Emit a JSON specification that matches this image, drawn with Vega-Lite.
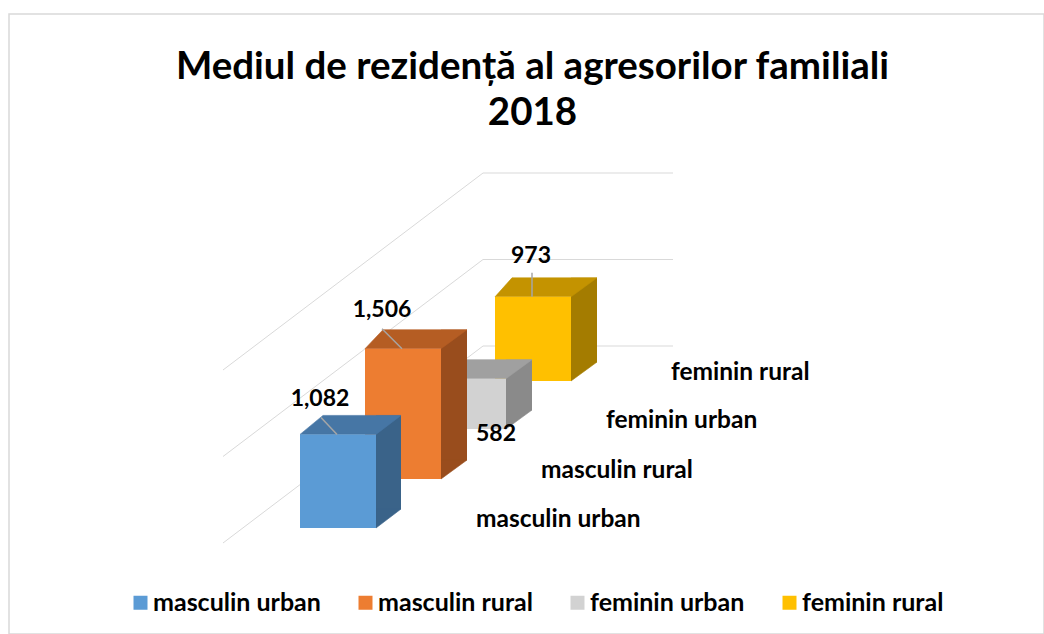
{
  "$schema": "https://vega.github.io/schema/vega-lite/v6.json",
  "width": 1035,
  "height": 620,
  "padding": {"left": 9, "top": 14, "right": 0, "bottom": 0},
  "autosize": {"type": "none"},
  "background": "white",
  "config": {"view": {"stroke": "#D9D9D9", "strokeWidth": 1.5}},
  "title": {
    "text": ["Mediul de rezidență al agresorilor familiali", "2018"],
    "font": "Lato", "fontSize": 38.5, "fontWeight": "bold", "color": "#000000",
    "anchor": "middle", "frame": "group", "baseline": "top", "offset": -119, "lineHeight": 46, "dx": 6
  },
  "data": {"values": [
    {"cat": "masculin urban", "value": 1082},
    {"cat": "masculin rural", "value": 1506},
    {"cat": "feminin urban", "value": 582},
    {"cat": "feminin rural", "value": 973}
  ]},
  "encoding": {
    "x": {"field": "cat", "type": "nominal", "bandPosition": 0.5,
      "scale": {"type": "band", "domain": ["masculin urban", "masculin rural", "feminin urban", "feminin rural"], "range": [296.5, 556.5], "paddingInner": 0, "paddingOuter": 0},
      "axis": null},
    "y": {"field": "value", "type": "quantitative",
      "scale": {"domain": [0, 5000], "range": [514, 81.5], "nice": false, "zero": true},
      "axis": null}
  },
  "layer": [
    {
      "data": {"values": [{"value": 0}, {"value": 1000}, {"value": 2000}]},
      "layer": [
        {"mark": {"type": "rule", "color": "#D9D9D9", "strokeWidth": 1, "xOffset": 145, "x2Offset": -115, "yOffset": -182, "y2Offset": 15},
         "encoding": {"x": {"datum": "masculin urban", "type": "nominal", "bandPosition": 0.5, "axis": null}, "x2": {"datum": "masculin urban", "bandPosition": 0.5}, "y2": {"field": "value"}}},
        {"mark": {"type": "rule", "color": "#D9D9D9", "strokeWidth": 1, "xOffset": 145, "x2Offset": 335, "yOffset": -182, "y2Offset": -182},
         "encoding": {"x": {"datum": "masculin urban", "type": "nominal", "bandPosition": 0.5, "axis": null}, "x2": {"datum": "masculin urban", "bandPosition": 0.5}, "y2": {"field": "value"}}}
      ]
    },
    {
      "transform": [{"filter": "datum.cat === 'feminin rural'"}],
      "layer": [
        {"mark": {"type": "bar", "width": 26, "xOffset": 51, "yOffset": -166, "y2Offset": -166, "color": "#A47C00"}},
        {"mark": {"type": "point", "shape": "M38,-19L38,0L64,-19Z", "size": 4, "filled": true, "opacity": 1, "color": "#A47C00", "stroke": "#A47C00", "strokeWidth": 0.6, "yOffset": -147},
         "encoding": {"y": {"datum": 0, "type": "quantitative", "axis": null}}},
        {"mark": {"type": "point", "shape": "M-38,0L38,0L64,-19L-21,-19Z", "size": 4, "filled": true, "opacity": 1, "color": "#C49300", "stroke": "#C49300", "strokeWidth": 0.6, "yOffset": -147}},
        {"mark": {"type": "bar", "width": 76, "yOffset": -147, "y2Offset": -147},
         "encoding": {"color": {"field": "cat", "type": "nominal",
           "scale": {"domain": ["masculin urban", "masculin rural", "feminin urban", "feminin rural"], "range": ["#5B9BD5", "#ED7D31", "#D2D2D2", "#FFC000"]},
           "legend": {"title": null, "orient": "none", "legendX": 119, "legendY": 576, "direction": "horizontal", "columns": 4, "columnPadding": 32, "symbolType": "square", "symbolSize": 196, "symbolStrokeWidth": 0, "symbolOpacity": 1, "labelFont": "Lato", "labelFontSize": 25, "labelFontWeight": "bold", "labelColor": "#000000", "labelOffset": 0, "labelLimit": 400, "padding": 0}}}},
        {"mark": {"type": "rule", "color": "#A6A6A6", "strokeWidth": 1.5, "xOffset": -1, "yOffset": -171, "x2Offset": -1, "y2Offset": -147},
         "encoding": {"x2": {"field": "cat", "bandPosition": 0.5}, "y2": {"field": "value"}}},
        {"mark": {"type": "text", "font": "Lato", "fontSize": 23, "fontWeight": "bold", "color": "#000000", "align": "center", "baseline": "alphabetic", "dx": -2, "dy": -181},
         "encoding": {"text": {"field": "value", "type": "quantitative", "format": ","}}},
        {"mark": {"type": "text", "font": "Lato", "fontSize": 24.5, "fontWeight": "bold", "color": "#000000", "align": "left", "baseline": "alphabetic", "dx": 138, "dy": -148},
         "encoding": {"y": {"datum": 0, "type": "quantitative", "axis": null}, "text": {"field": "cat"}}}
      ]
    },
    {
      "transform": [{"filter": "datum.cat === 'feminin urban'"}],
      "layer": [
        {"mark": {"type": "bar", "width": 26, "xOffset": 51, "yOffset": -118, "y2Offset": -118, "color": "#8A8A8A"}},
        {"mark": {"type": "point", "shape": "M38,-19L38,0L64,-19Z", "size": 4, "filled": true, "opacity": 1, "color": "#8A8A8A", "stroke": "#8A8A8A", "strokeWidth": 0.6, "yOffset": -99},
         "encoding": {"y": {"datum": 0, "type": "quantitative", "axis": null}}},
        {"mark": {"type": "point", "shape": "M-38,0L38,0L64,-19L-20,-19Z", "size": 4, "filled": true, "opacity": 1, "color": "#A0A0A0", "stroke": "#A0A0A0", "strokeWidth": 0.6, "yOffset": -99}},
        {"mark": {"type": "bar", "width": 76, "yOffset": -99, "y2Offset": -99},
         "encoding": {"color": {"field": "cat", "type": "nominal"}}},
        {"mark": {"type": "text", "font": "Lato", "fontSize": 23, "fontWeight": "bold", "color": "#000000", "align": "center", "baseline": "alphabetic", "dx": 28, "dy": -37},
         "encoding": {"text": {"field": "value", "type": "quantitative", "format": ","}}},
        {"mark": {"type": "text", "font": "Lato", "fontSize": 24.5, "fontWeight": "bold", "color": "#000000", "align": "left", "baseline": "alphabetic", "dx": 138, "dy": -100},
         "encoding": {"y": {"datum": 0, "type": "quantitative", "axis": null}, "text": {"field": "cat"}}}
      ]
    },
    {
      "transform": [{"filter": "datum.cat === 'masculin rural'"}],
      "layer": [
        {"mark": {"type": "bar", "width": 26, "xOffset": 51, "yOffset": -68, "y2Offset": -68, "color": "#994D1D"}},
        {"mark": {"type": "point", "shape": "M38,-19L38,0L64,-19Z", "size": 4, "filled": true, "opacity": 1, "color": "#994D1D", "stroke": "#994D1D", "strokeWidth": 0.6, "yOffset": -49},
         "encoding": {"y": {"datum": 0, "type": "quantitative", "axis": null}}},
        {"mark": {"type": "point", "shape": "M-38,0L38,0L64,-19L-20,-19Z", "size": 4, "filled": true, "opacity": 1, "color": "#B55D23", "stroke": "#B55D23", "strokeWidth": 0.6, "yOffset": -49}},
        {"mark": {"type": "bar", "width": 76, "yOffset": -49, "y2Offset": -49},
         "encoding": {"color": {"field": "cat", "type": "nominal"}}},
        {"mark": {"type": "rule", "color": "#A6A6A6", "strokeWidth": 1.5, "xOffset": -21, "yOffset": -69, "x2Offset": -1, "y2Offset": -49},
         "encoding": {"x2": {"field": "cat", "bandPosition": 0.5}, "y2": {"field": "value"}}},
        {"mark": {"type": "text", "font": "Lato", "fontSize": 23, "fontWeight": "bold", "color": "#000000", "align": "center", "baseline": "alphabetic", "dx": -21, "dy": -81},
         "encoding": {"text": {"field": "value", "type": "quantitative", "format": ","}}},
        {"mark": {"type": "text", "font": "Lato", "fontSize": 24.5, "fontWeight": "bold", "color": "#000000", "align": "left", "baseline": "alphabetic", "dx": 138, "dy": -50},
         "encoding": {"y": {"datum": 0, "type": "quantitative", "axis": null}, "text": {"field": "cat"}}}
      ]
    },
    {
      "transform": [{"filter": "datum.cat === 'masculin urban'"}],
      "layer": [
        {"mark": {"type": "bar", "width": 25, "xOffset": 50.5, "yOffset": -19, "y2Offset": -19, "color": "#3A6389"}},
        {"mark": {"type": "point", "shape": "M38,-19L38,0L63,-19Z", "size": 4, "filled": true, "opacity": 1, "color": "#3A6389", "stroke": "#3A6389", "strokeWidth": 0.6, "yOffset": 0},
         "encoding": {"y": {"datum": 0, "type": "quantitative", "axis": null}}},
        {"mark": {"type": "point", "shape": "M-38,0L38,0L63,-19L-15,-19Z", "size": 4, "filled": true, "opacity": 1, "color": "#4676A5", "stroke": "#4676A5", "strokeWidth": 0.6, "yOffset": 0}},
        {"mark": {"type": "bar", "width": 76, "yOffset": 0, "y2Offset": 0},
         "encoding": {"color": {"field": "cat", "type": "nominal"}}},
        {"mark": {"type": "rule", "color": "#A6A6A6", "strokeWidth": 1.5, "xOffset": -17, "yOffset": -17, "x2Offset": -1, "y2Offset": 0},
         "encoding": {"x2": {"field": "cat", "bandPosition": 0.5}, "y2": {"field": "value"}}},
        {"mark": {"type": "text", "font": "Lato", "fontSize": 23, "fontWeight": "bold", "color": "#000000", "align": "center", "baseline": "alphabetic", "dx": -18, "dy": -28},
         "encoding": {"text": {"field": "value", "type": "quantitative", "format": ","}}},
        {"mark": {"type": "text", "font": "Lato", "fontSize": 24.5, "fontWeight": "bold", "color": "#000000", "align": "left", "baseline": "alphabetic", "dx": 138, "dy": -1},
         "encoding": {"y": {"datum": 0, "type": "quantitative", "axis": null}, "text": {"field": "cat"}}}
      ]
    }
  ]
}
